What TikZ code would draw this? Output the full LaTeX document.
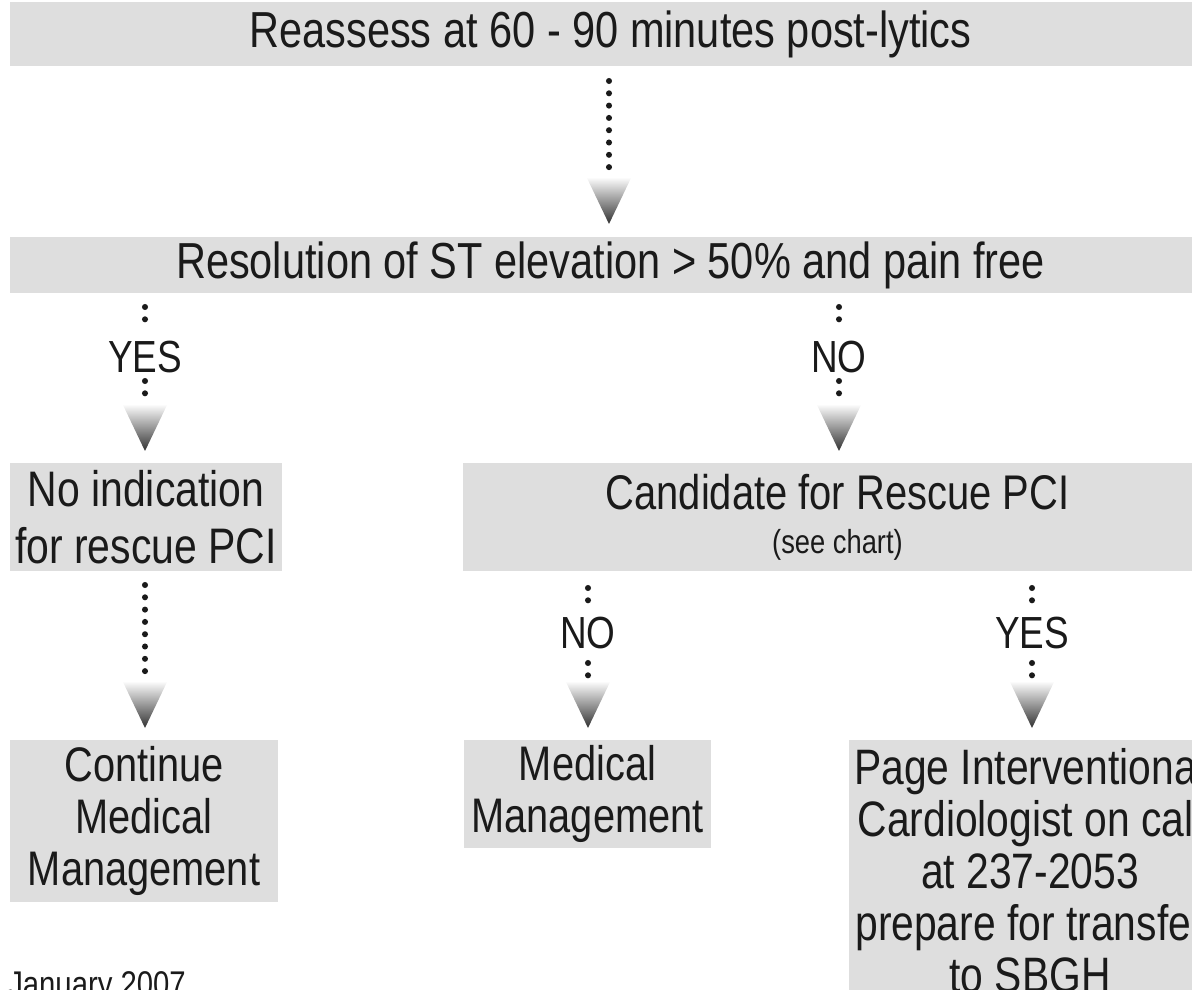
\documentclass[tikz,border=0pt]{standalone}
\usepackage{fontspec}
\setmainfont[FakeStretch=0.82]{Liberation Sans}
\usetikzlibrary{calc}

\definecolor{boxgray}{HTML}{DEDEDE}
\definecolor{ink}{HTML}{1A1A1A}

% shaded arrow tip hanging below a coordinate
\newcommand{\gradtip}[1]{%
  \shade[top color=white, bottom color=ink!90]
    ($(#1)+(-22.5,0)$) -- ($(#1)+(22.5,0)$) -- ($(#1)+(0,47)$) -- cycle;}

\begin{document}
\begin{tikzpicture}[x=0.025cm, y=-0.025cm, inner sep=0pt, text=ink,
    box/.style={fill=boxgray, align=center},
    big/.style={font=\fontsize{36}{40.5}\selectfont},
    mid/.style={font=\fontsize{34.5}{37}\selectfont},
    answer/.style={font=\fontsize{32}{34}\selectfont},
    dots/.style={draw=ink, line width=4.3pt, line cap=round, dash pattern=on 0pt off 8.75pt}]

    \useasboundingbox (0,0) rectangle (1192,990);
    \clip (0,0) rectangle (1192,990);

    % Boxes
    \node[box, big, minimum width=30.025cm, minimum height=1.6cm] (reassess) at (610.5,34) {Reassess at 60 - 90 minutes post-lytics};
    \node[box, big, minimum width=30.025cm, minimum height=1.4cm] (resolution) at (610.5,265) {Resolution of ST elevation > 50\% and pain free};
    \node[box, minimum width=6.8cm, minimum height=2.7cm, font=\fontsize{35.5}{40.5}\selectfont] (noind) at (146,517) {No indication\\for rescue PCI};
    \node[box, minimum width=18.725cm, minimum height=2.7cm, font=\fontsize{34.6}{31.5}\selectfont] (rescue) at (837.5,517)
        {Candidate for Rescue PCI\\{\fontsize{23.7}{26}\selectfont (see chart)}};
    \node[box, mid, minimum width=6.7cm, minimum height=4.05cm] (contmed) at (144,821) {Continue\\Medical\\Management};
    \node[box, mid, minimum width=6.175cm, minimum height=2.7cm] (medmgmt) at (587.5,794) {Medical\\Management};
    \node[box, minimum width=9.05cm, minimum height=6.55cm, font=\fontsize{35.4}{37}\selectfont] (page) at (1030,871)
        {Page Interventional\\Cardiologist on call\\at 237-2053\\prepare for transfer\\to SBGH};

    % Answers
    \node[answer] (yes1) at (145,357) {YES};
    \node[answer] (no1) at (839,357) {NO};
    \node[answer] (no2) at (588,633) {NO};
    \node[answer] (yes2) at (1032,633) {YES};

    \node[anchor=base west, font=\fontsize{25.4}{28}\selectfont] (date) at (8,996) {January 2007};

    % Dot runs and tips
    \coordinate (m0) at (609,81);
    \coordinate (m1) at (609,177);
    \draw[dots] (m0) -- (m1);
    \gradtip{m1}

    \coordinate (ya0) at (145,307);
    \coordinate (ya1) at (145,321);
    \coordinate (ya2) at (145,381);
    \coordinate (ya3) at (145,404);
    \draw[dots] (ya0) -- (ya1);
    \draw[dots] (ya2) -- (ya3);
    \gradtip{ya3}

    \coordinate (na0) at (839,307);
    \coordinate (na1) at (839,321);
    \coordinate (na2) at (839,381);
    \coordinate (na3) at (839,404);
    \draw[dots] (na0) -- (na1);
    \draw[dots] (na2) -- (na3);
    \gradtip{na3}

    \coordinate (l0) at (145,585);
    \coordinate (l1) at (145,681);
    \draw[dots] (l0) -- (l1);
    \gradtip{l1}

    \coordinate (nb0) at (588,588);
    \coordinate (nb1) at (588,602);
    \coordinate (nb2) at (588,663);
    \coordinate (nb3) at (588,681);
    \draw[dots] (nb0) -- (nb1);
    \draw[dots] (nb2) -- (nb3);
    \gradtip{nb3}

    \coordinate (yb0) at (1032,588);
    \coordinate (yb1) at (1032,602);
    \coordinate (yb2) at (1032,663);
    \coordinate (yb3) at (1032,681);
    \draw[dots] (yb0) -- (yb1);
    \draw[dots] (yb2) -- (yb3);
    \gradtip{yb3}
\end{tikzpicture}
\end{document}
